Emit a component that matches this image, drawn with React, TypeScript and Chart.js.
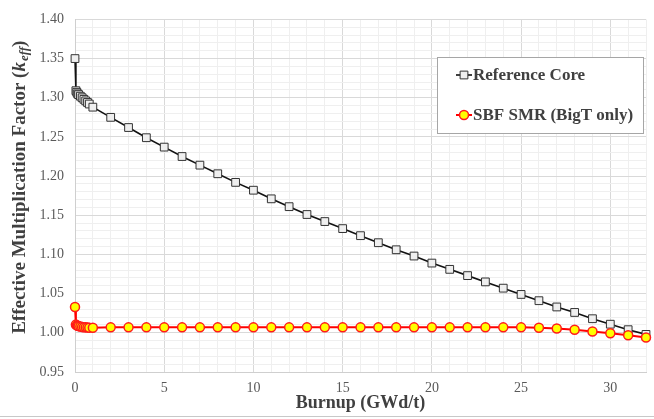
import React, { useEffect, useRef } from "react";
import { Chart, registerables } from "chart.js";

Chart.register(...registerables);

// ---- Data ----
const seriesLabels = ["Reference Core", "SBF SMR (BigT only)"];

const burnupRef = [
  0, 0.05, 0.1, 0.15, 0.2, 0.3, 0.4, 0.5, 0.6, 0.7, 0.8, 1,
  2, 3, 4, 5, 6, 7, 8, 9, 10, 11, 12, 13, 14, 15, 16, 17, 18, 19, 20,
  21, 22, 23, 24, 25, 26, 27, 28, 29, 30, 31, 32,
];
const keffRef = [
  1.35, 1.309, 1.307, 1.305, 1.304, 1.302, 1.3, 1.298, 1.296, 1.294, 1.292, 1.288,
  1.275, 1.262, 1.249, 1.237, 1.225, 1.214, 1.203, 1.192, 1.182, 1.171, 1.161,
  1.151, 1.142, 1.133, 1.124, 1.115, 1.106, 1.098, 1.089, 1.081, 1.073, 1.065,
  1.057, 1.049, 1.041, 1.033, 1.026, 1.018, 1.011, 1.004, 0.998,
];

const burnupSbf = [
  0, 0.05, 0.1, 0.15, 0.2, 0.3, 0.4, 0.5, 0.6, 0.7, 0.8, 1,
  2, 3, 4, 5, 6, 7, 8, 9, 10, 11, 12, 13, 14, 15, 16, 17, 18, 19, 20,
  21, 22, 23, 24, 25, 26, 27, 28, 29, 30, 31, 32,
];
const keffSbf = [
  1.033, 1.0105, 1.0095, 1.009, 1.0085, 1.008, 1.0075, 1.0072, 1.007, 1.0068, 1.0066, 1.0065,
  1.007, 1.007, 1.007, 1.007, 1.007, 1.007, 1.007, 1.007, 1.007, 1.007, 1.007,
  1.007, 1.007, 1.007, 1.007, 1.007, 1.007, 1.007, 1.007, 1.007, 1.007, 1.007,
  1.007, 1.007, 1.0065, 1.0055, 1.004, 1.0016, 0.9995, 0.997, 0.994,
];

const xAxisTitle = "Burnup (GWd/t)";
const yAxisTitleMain = "Effective Multiplication Factor (";
const yAxisTitleK = "k";
const yAxisTitleSub = "eff";
const yAxisTitleEnd = ")";

const FONT = '"Liberation Serif", "Times New Roman", serif';
const TEXT = "#404040";

const yTitlePlugin = {
  id: "yTitle",
  afterDraw(chart: any) {
    const { ctx, chartArea } = chart;
    const cy = (chartArea.top + chartArea.bottom) / 2 - 8;
    const cx = 20;
    ctx.save();
    ctx.translate(cx, cy);
    ctx.rotate(-Math.PI / 2);
    ctx.fillStyle = TEXT;
    ctx.textBaseline = "middle";
    ctx.textAlign = "left";
    const fMain = `bold 19px ${FONT}`;
    const fK = `italic bold 19px ${FONT}`;
    const fSub = `italic bold 13px ${FONT}`;
    ctx.font = fMain;
    const w1 = ctx.measureText(yAxisTitleMain).width;
    const w4 = ctx.measureText(yAxisTitleEnd).width;
    ctx.font = fK;
    const w2 = ctx.measureText(yAxisTitleK).width;
    ctx.font = fSub;
    const w3 = ctx.measureText(yAxisTitleSub).width;
    let x = -(w1 + w2 + w3 + w4) / 2;
    ctx.font = fMain;
    ctx.fillText(yAxisTitleMain, x, 0);
    x += w1;
    ctx.font = fK;
    ctx.fillText(yAxisTitleK, x, 0);
    x += w2 + 1;
    ctx.font = fSub;
    ctx.fillText(yAxisTitleSub, x, 5);
    x += w3;
    ctx.font = fMain;
    ctx.fillText(yAxisTitleEnd, x, 0);
    ctx.restore();
  },
};

const legendBoxPlugin = {
  id: "legendBox",
  afterDraw(chart: any) {
    const { ctx } = chart;
    const x0 = 437;
    const y0 = 57;
    const w = 206;
    const h = 76;
    ctx.save();
    ctx.fillStyle = "#ffffff";
    ctx.fillRect(x0, y0, w, h);
    ctx.strokeStyle = "#a6a6a6";
    ctx.lineWidth = 1;
    ctx.strokeRect(x0 + 0.5, y0 + 0.5, w, h);
    const order = [0, 1];
    order.forEach((di, i) => {
      const ds = chart.data.datasets[di];
      const cy = y0 + 18 + i * 40;
      ctx.strokeStyle = ds.borderColor;
      ctx.lineWidth = ds.borderWidth;
      ctx.beginPath();
      ctx.moveTo(x0 + 19, cy);
      ctx.lineTo(x0 + 35, cy);
      ctx.stroke();
      const mx = x0 + 27;
      ctx.fillStyle = ds.pointBackgroundColor;
      ctx.strokeStyle = ds.pointBorderColor;
      ctx.lineWidth = ds.pointBorderWidth;
      if (ds.pointStyle === "rect") {
        const s = Math.SQRT1_2 * ds.pointRadius;
        ctx.beginPath();
        ctx.rect(mx - s, cy - s, 2 * s, 2 * s);
        ctx.fill();
        ctx.stroke();
      } else {
        ctx.beginPath();
        ctx.arc(mx, cy, ds.pointRadius, 0, Math.PI * 2);
        ctx.fill();
        ctx.stroke();
      }
      ctx.fillStyle = TEXT;
      ctx.font = `bold 17px ${FONT}`;
      ctx.textBaseline = "middle";
      ctx.textAlign = "left";
      ctx.fillText(ds.label, x0 + 36, cy + 1);
    });
    ctx.restore();
  },
};

export default function App() {
  const canvasRef = useRef<HTMLCanvasElement | null>(null);

  useEffect(() => {
    document.body.style.margin = "0";
    const canvas = canvasRef.current;
    if (!canvas) return;

    const refPoints = burnupRef.map((x, i) => ({ x, y: keffRef[i] }));
    const sbfPoints = burnupSbf.map((x, i) => ({ x, y: keffSbf[i] }));

    const chart = new Chart(canvas, {
      type: "line",
      data: {
        datasets: [
          {
            label: seriesLabels[0],
            data: refPoints,
            borderColor: "#111111",
            borderWidth: 1.6,
            pointStyle: "rect",
            pointRadius: 5.5,
            pointBackgroundColor: "#efefef",
            pointBorderColor: "#333333",
            pointBorderWidth: 1,
            tension: 0,
            order: 1,
            clip: false,
          },
          {
            label: seriesLabels[1],
            data: sbfPoints,
            borderColor: "#ff0000",
            borderWidth: 2,
            pointStyle: "circle",
            pointRadius: 4.5,
            pointBackgroundColor: "#ffff00",
            pointBorderColor: "#ff1a1a",
            pointBorderWidth: 1.5,
            tension: 0,
            order: 0,
            clip: false,
          },
        ],
      },
      options: {
        responsive: false,
        animation: false,
        layout: { padding: { top: 16, right: 2, bottom: 0, left: 0 } },
        plugins: {
          legend: { display: false },
          tooltip: { enabled: false },
        },
        scales: {
          x: {
            type: "linear",
            min: 0,
            max: 32,
            border: { color: "#cfcfcf", width: 1 },
            grid: {
              drawTicks: false,
              color: (c: any) =>
                c.tick && Math.round(c.tick.value) % 5 === 0 ? "#d9d9d9" : "#efefef",
            },
            ticks: {
              stepSize: 1,
              autoSkip: false,
              maxRotation: 0,
              padding: 8,
              color: "#595959",
              font: { family: FONT, size: 14 },
              callback: (v: any) => (Math.round(v) % 5 === 0 ? String(Math.round(v)) : ""),
            },
            title: {
              display: true,
              text: xAxisTitle,
              color: TEXT,
              font: { family: FONT, size: 18, weight: "bold" },
              padding: { top: 0, bottom: 5 },
            },
            afterFit: (scale: any) => {
              scale.height = 47;
            },
          },
          y: {
            type: "linear",
            min: 0.95,
            max: 1.4,
            border: { color: "#cfcfcf", width: 1 },
            grid: {
              drawTicks: false,
              color: (c: any) =>
                c.tick && Math.round(c.tick.value * 100) % 5 === 0 ? "#d9d9d9" : "#efefef",
            },
            ticks: {
              stepSize: 0.01,
              autoSkip: false,
              padding: 11,
              color: "#595959",
              font: { family: FONT, size: 14 },
              callback: (v: any) =>
                Math.round(v * 100) % 5 === 0 ? Number(v).toFixed(2) : "",
            },
            afterFit: (scale: any) => {
              scale.width = 75;
            },
          },
        },
      },
      plugins: [yTitlePlugin, legendBoxPlugin],
    });

    return () => chart.destroy();
  }, []);

  return (
    <div style={{ position: "relative", width: 654, height: 419, background: "#ffffff" }}>
      <canvas ref={canvasRef} width={654} height={419} style={{ display: "block" }} />
      <div
        style={{
          position: "absolute",
          left: 0,
          top: 416,
          width: 654,
          height: 1,
          background: "#c8c8c8",
        }}
      />
    </div>
  );
}
